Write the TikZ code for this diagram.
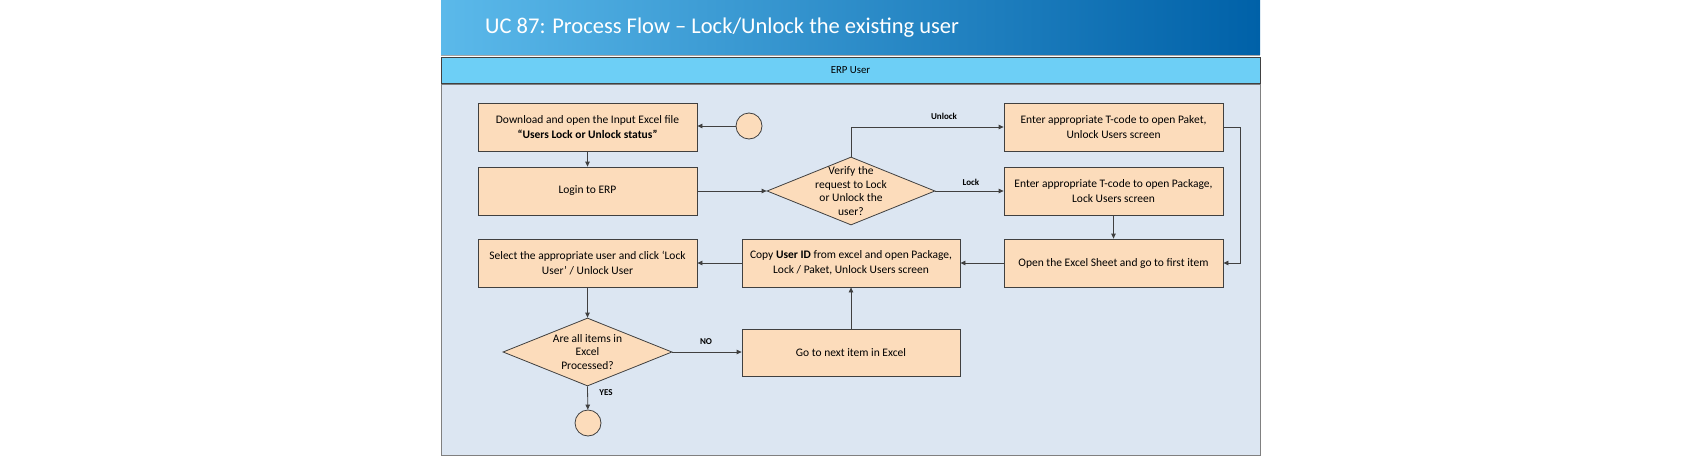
\documentclass[tikz,border=0pt]{standalone}
\usepackage{fontspec}
\setmainfont{Carlito}
\usetikzlibrary{shapes.geometric,arrows.meta}
\definecolor{peach}{HTML}{FCDCBB}
\definecolor{bodybg}{HTML}{DCE6F2}
\definecolor{hdrbg}{HTML}{6DCFF6}
\definecolor{ttlL}{HTML}{5BB9EA}
\definecolor{ttlR}{HTML}{0061A8}
\definecolor{edge}{HTML}{404040}
\tikzset{
  procbox/.style={draw=edge, line width=0.8pt, fill=peach, rectangle, inner sep=2pt,
    minimum width=219pt, minimum height=48pt, align=center, font=\fontsize{11.5}{15}\selectfont},
  decbox/.style={draw=edge, line width=0.8pt, fill=peach, diamond, inner sep=0pt,
    minimum width=168pt, minimum height=68pt},
  dectext/.style={align=center, font=\fontsize{11.5}{13.5}\selectfont, inner sep=0pt},
  termbox/.style={draw=edge, line width=0.8pt, fill=peach, circle, inner sep=0pt, minimum size=26pt},
  conn/.style={draw=edge, line width=0.8pt, -{Triangle[length=5pt,width=4.5pt]}},
  lbl/.style={font=\fontsize{9}{11}\selectfont\bfseries, inner sep=1pt}
}
\begin{document}
\begin{tikzpicture}[x=1pt,y=-1pt]
\useasboundingbox (0,0) rectangle (1702,460);
% title bar
\shade[left color=ttlL, right color=ttlR] (441,0) rectangle (1260,55);
\draw[color=gray!70, line width=0.8pt] (441,55.5) -- (1260,55.5);
\node[anchor=west, text=white, font=\fontsize{22.5}{26}\selectfont, inner sep=0pt] (title) at (485,28) {UC 87: Process Flow – Lock/Unlock the existing user};
% lane header
\draw[fill=hdrbg, draw=edge, line width=0.8pt] (441,57) rectangle (1260,83.5);
\node[font=\fontsize{10.8}{13}\selectfont, inner sep=0pt] (lane) at (850.5,70.5) {ERP User};
% body
\draw[fill=bodybg, draw=gray, line width=0.8pt] (441,84) rectangle (1260,455);
% nodes
\node[procbox] (dl) at (587.5,127) {Download and open the Input Excel file\\\textbf{“Users Lock or Unlock status”}};
\node[termbox] (start) at (749,126) {};
\node[procbox] (login) at (587.5,191) {Login to ERP};
\node[decbox] (verify) at (851,191) {};
\node[dectext] (verifyt) at (851,191) {Verify the\\request to Lock\\or Unlock the\\user?};
\node[procbox] (unlk) at (1113.5,127) {Enter appropriate T-code to open Paket,\\Unlock Users screen};
\node[procbox] (lk) at (1113.5,191.5) {Enter appropriate T-code to open Package,\\Lock Users screen};
\node[procbox] (open) at (1113.5,263) {Open the Excel Sheet and go to first item};
\node[procbox, minimum width=218pt] (copy) at (851,263) {Copy \textbf{User ID} from excel and open Package,\\Lock / Paket, Unlock Users screen};
\node[procbox] (sel) at (587.5,263) {Select the appropriate user and click ‘Lock\\User’ / Unlock User};
\node[decbox, minimum width=169pt] (check) at (587.5,352) {};
\node[dectext] (checkt) at (587.5,352) {Are all items in\\Excel\\Processed?};
\node[procbox, minimum width=218pt, minimum height=47pt] (next) at (851,352.5) {Go to next item in Excel};
\node[termbox] (end) at (588,423) {};
% connectors
\draw[conn] (start) -- (dl.east |- start);
\draw[conn] (dl) -- (login);
\draw[conn] (login.east) -- (verify.west);
\draw[conn] (verify.north) |- (unlk.west);
\node[lbl] (lunlock) at (944,116) {Unlock};
\draw[conn] (verify.east) -- (lk.west |- verify.east);
\node[lbl] (llock) at (971,182) {Lock};
\coordinate (rturn) at (1240,127);
\draw[conn] (unlk.east) -- (rturn) |- (open.east);
\draw[conn] (lk) -- (open);
\draw[conn] (open) -- (copy);
\draw[conn] (copy) -- (sel);
\draw[conn] (sel) -- (check.north);
\draw[conn] (check.east) -- (next.west |- check.east);
\node[lbl] (lno) at (706,342) {NO};
\draw[conn] (next) -- (copy);
\draw[conn] (check.south) -- (end);
\node[lbl] (lyes) at (606,393) {YES};
\end{tikzpicture}
\end{document}
